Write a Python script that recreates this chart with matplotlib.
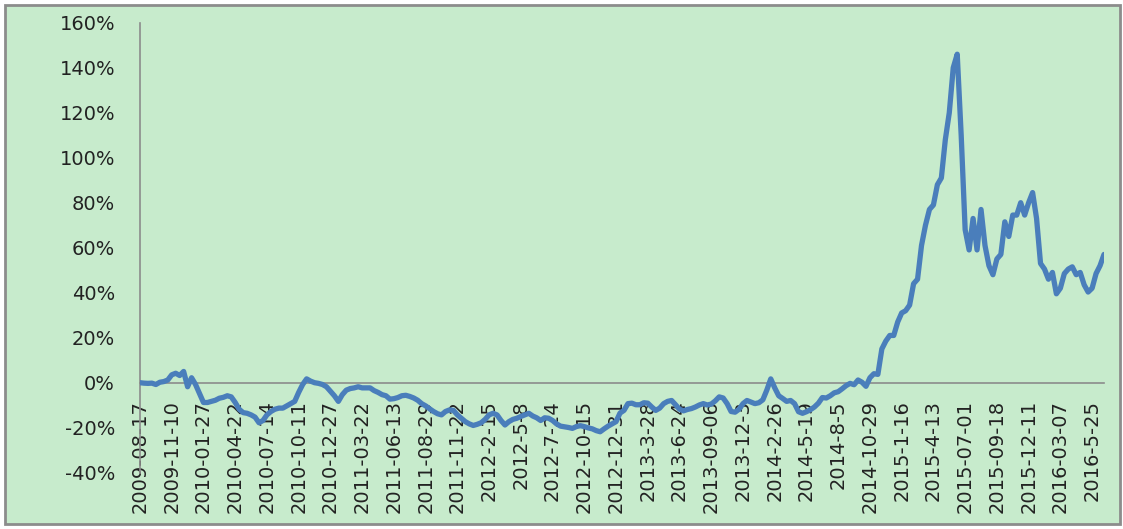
# Cumulative return line, Excel-style category axis (2009-08 to 2016-06)
import matplotlib
matplotlib.use("Agg")
import matplotlib.pyplot as plt
from matplotlib.patches import Rectangle
from matplotlib.ticker import FuncFormatter

# category labels shown on the x axis (one every 8 points)
tick_labels = ["2009-08-17", "2009-11-10", "2010-01-27", "2010-04-22", "2010-07-14",
               "2010-10-11", "2010-12-27", "2011-03-22", "2011-06-13", "2011-08-29",
               "2011-11-22", "2012-2-15", "2012-5-8", "2012-7-24", "2012-10-15",
               "2012-12-31", "2013-3-28", "2013-6-24", "2013-09-06", "2013-12-3",
               "2014-2-26", "2014-5-19", "2014-8-5", "2014-10-29", "2015-1-16",
               "2015-4-13", "2015-07-01", "2015-09-18", "2015-12-11", "2016-03-07",
               "2016-5-25"]
label_step = 8

# cumulative return in percent
returns = [
    0, -0.2, -0.3, -0.2, -0.8, 0.2, 0.5, 1.2,
    3.5, 4.2, 3.2, 5, -1.8, 2.2, -0.8, -4.8,
    -8.8, -8.8, -8.3, -7.8, -6.9, -6.5, -5.8, -6.3,
    -8.8, -11.8, -13.3, -13.6, -14.3, -15.3, -17.8, -16.8,
    -14.3, -12.8, -11.8, -11.3, -11.3, -10.3, -9.3, -8.3,
    -4.3, -0.8, 1.7, 0.7, 0, -0.3, -0.8, -1.8,
    -3.8, -5.8, -8.3, -5.3, -3.3, -2.6, -2.3, -1.8,
    -2.3, -2.3, -2.3, -3.5, -4.3, -5.3, -5.8, -7.3,
    -7.1, -6.6, -5.8, -5.6, -6.1, -6.8, -7.8, -9.3,
    -10.3, -11.6, -12.8, -13.8, -14.3, -12.8, -12.1, -12.3,
    -14.3, -15.8, -17.3, -18.3, -19, -18.5, -17.8, -16.3,
    -14.3, -13.6, -14.3, -16.8, -18.8, -17.3, -16.3, -15.8,
    -15, -14.3, -13.6, -14.8, -15.6, -16.8, -15.6, -15.8,
    -16.8, -18.3, -19.3, -19.6, -19.9, -20.3, -19.5, -19.1,
    -19.5, -20.1, -20.5, -21.3, -21.8, -20.5, -19.3, -18.3,
    -17.3, -13.5, -12.3, -9.3, -9.1, -9.8, -9.8, -8.9,
    -9.1, -10.8, -12.3, -11.3, -9.3, -8.3, -7.9, -9.8,
    -11.8, -12.5, -11.9, -11.5, -10.8, -9.9, -9.3, -9.9,
    -9.5, -8.1, -6.3, -6.8, -9.3, -12.8, -13.1, -11.8,
    -9.3, -7.9, -8.6, -9.3, -8.9, -7.6, -3.3, 1.7,
    -2.3, -5.8, -7, -8.3, -7.9, -9.3, -12.9, -13.6,
    -12.9, -12, -10.8, -9.1, -6.6, -6.8, -5.8, -4.5,
    -4, -2.7, -1.3, -0.3, -0.9, 1.2, 0.2, -1.6,
    2.2, 4, 3.7, 15, 18.5, 21, 21, 27,
    31, 32, 34.5, 44, 46, 61, 70, 77,
    79, 88, 91, 108, 120, 140, 146, 110,
    68, 59, 73, 59, 77, 61, 52, 48,
    55, 57, 71.5, 65, 74.5, 74.5, 80, 74.5,
    80, 84.5, 73, 53, 50.5, 46, 49, 39.5,
    42, 48.5, 50.5, 51.5, 48, 49, 43.5, 40.3,
    42, 48.5, 52, 57,
]

fig = plt.figure(figsize=(11.23, 5.29), dpi=100)
W, H = 1123, 529

# green chart area with grey frame, kept behind the axes
frame = Rectangle((5 / W, 5 / H), 1115 / W, 519 / H, transform=fig.transFigure,
                  facecolor="#C7EBCC", edgecolor="#8C8C8C", linewidth=2, zorder=-10)
fig.add_artist(frame)

ax = fig.add_axes([140 / W, (H - 472.7) / H, 964 / W, 450 / H])
ax.patch.set_visible(False)
ax.set_zorder(5)

x = list(range(len(returns)))
ax.plot(x, returns, color="#4A7EBB", linewidth=3.8, solid_joinstyle="round",
        solid_capstyle="round", zorder=3)

ax.set_xlim(0, len(returns) - 1)
ax.set_ylim(-40, 160)
ax.set_yticks(range(-40, 161, 20))
ax.yaxis.set_major_formatter(FuncFormatter(lambda v, p: f"{v:.0f}%"))

ax.set_xticks([i * label_step for i in range(len(tick_labels))])
ax.set_xticklabels(tick_labels)

for s in ["top", "right"]:
    ax.spines[s].set_visible(False)
ax.spines["bottom"].set_position(("data", 0))
for s in ["left", "bottom"]:
    ax.spines[s].set_color("#8C8C8C")
    ax.spines[s].set_linewidth(1.2)
    ax.spines[s].set_zorder(2)

ax.tick_params(axis="y", length=0, pad=18, labelsize=14, labelcolor="#222222")
ax.tick_params(axis="x", length=0, pad=12.5, labelsize=14, labelcolor="#222222",
               labelrotation=90)

fig.savefig("out.png", dpi=100)
